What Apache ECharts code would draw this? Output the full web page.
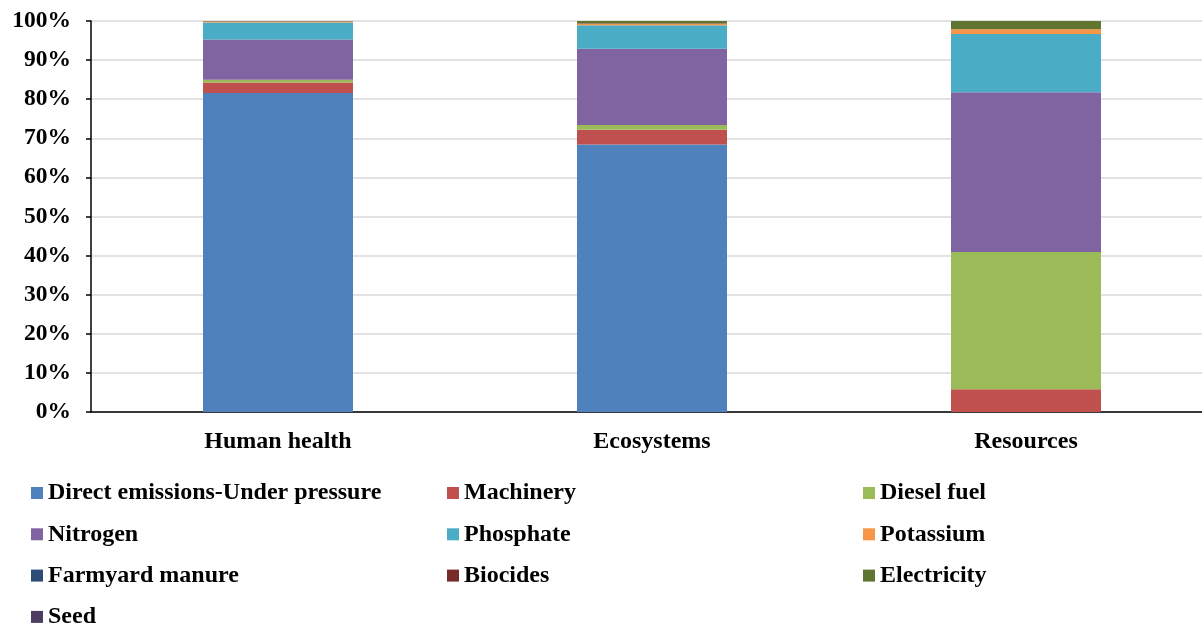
<!DOCTYPE html>
<html>
<head>
<meta charset="utf-8">
<script src="https://cdn.jsdelivr.net/npm/echarts@6/dist/echarts.min.js"></script>
<style>
  html, body { margin: 0; padding: 0; background: #fff; }
  #chart { width: 1202px; height: 628px; }
</style>
</head>
<body>
<div id="chart"></div>
<script>
// Impact categories on the x axis
const categories = ['Human health', 'Ecosystems', 'Resources'];

// Share of each input in every impact category (%)
const directEmissions = [81.6, 68.4, 0];
const machinery       = [2.7, 3.8, 5.8];
const dieselFuel      = [0.7, 1.2, 35.1];
const nitrogen        = [10.3, 19.5, 40.9];
const phosphate       = [4.3, 6.0, 14.9];
const potassium       = [0.3, 0.4, 1.2];
const farmyardManure  = [0, 0, 0];
const biocides        = [0.05, 0.1, 0];
const electricity     = [0.05, 0.6, 2.1];
const seed            = [0, 0, 0];

const yTicks = [0, 10, 20, 30, 40, 50, 60, 70, 80, 90, 100];

const seriesDefs = [
  ['Direct emissions-Under pressure', directEmissions, '#4F81BD'],
  ['Machinery', machinery, '#C0504D'],
  ['Diesel fuel', dieselFuel, '#9BBB59'],
  ['Nitrogen', nitrogen, '#8064A2'],
  ['Phosphate', phosphate, '#4BACC6'],
  ['Potassium', potassium, '#F79646'],
  ['Farmyard manure', farmyardManure, '#2C4D75'],
  ['Biocides', biocides, '#772C2A'],
  ['Electricity', electricity, '#5F7530'],
  ['Seed', seed, '#4D3B62']
];

const font = '"Liberation Serif", "Times New Roman", serif';
const textStyle = { fontFamily: font, fontWeight: 'bold', fontSize: 24, color: '#000' };

function legendColumn(names, left) {
  return {
    data: names,
    orient: 'vertical',
    left: left,
    top: 481,
    height: 160,
    padding: 0,
    itemWidth: 12,
    itemHeight: 12,
    itemGap: 17.3,
    icon: 'rect',
    textStyle: Object.assign({}, textStyle, { lineHeight: 24 }),
    selectedMode: false
  };
}

const chart = echarts.init(document.getElementById('chart'), null, { renderer: 'canvas' });
chart.setOption({
  animation: false,
  backgroundColor: '#fff',
  grid: { left: 91, width: 1122, top: 21, bottom: 216, outerBoundsMode: 'none', containLabel: false },
  legend: [
    legendColumn(['Direct emissions-Under pressure', 'Nitrogen', 'Farmyard manure', 'Seed'], 31),
    legendColumn(['Machinery', 'Phosphate', 'Biocides'], 447),
    legendColumn(['Diesel fuel', 'Potassium', 'Electricity'], 863)
  ],
  xAxis: {
    type: 'category',
    data: categories,
    axisLine: { lineStyle: { color: '#000', width: 1.5 } },
    axisTick: { show: false },
    axisLabel: Object.assign({}, textStyle, { margin: 18 })
  },
  yAxis: {
    type: 'value',
    min: yTicks[0],
    max: yTicks[yTicks.length - 1],
    interval: 10,
    axisLine: { show: true, lineStyle: { color: '#000', width: 1.5 } },
    axisTick: { show: true, length: 5, lineStyle: { color: '#000', width: 1.5 } },
    splitLine: { lineStyle: { color: '#d9d9d9', width: 1.5 } },
    axisLabel: Object.assign({}, textStyle, { fontSize: 23.5, margin: 20, formatter: '{value}%' })
  },
  series: seriesDefs.map(([name, values, color]) => ({
    name: name,
    type: 'bar',
    stack: 'total',
    barWidth: 150,
    data: values,
    itemStyle: { color: color },
    emphasis: { disabled: true }
  }))
});
</script>
</body>
</html>
